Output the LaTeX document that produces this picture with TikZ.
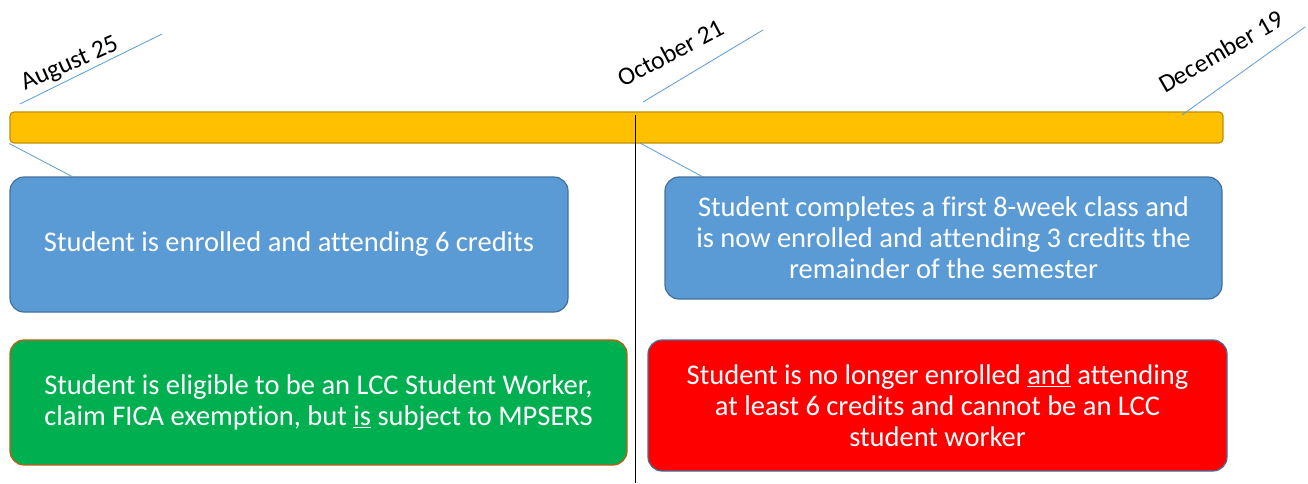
\documentclass[tikz,border=0pt]{standalone}
\usepackage{fontspec}
\setmainfont{Carlito}[Ligatures=NoCommon]
\usetikzlibrary{positioning, calc}

\definecolor{baryellow}{HTML}{FFC000}
\definecolor{bardark}{HTML}{BF9000}
\definecolor{boxblue}{HTML}{5B9BD5}
\definecolor{blueedge}{HTML}{41719C}
\definecolor{boxgreen}{HTML}{00B050}
\definecolor{greenedge}{HTML}{C55A11}
\definecolor{boxred}{HTML}{FF0000}

\begin{document}
\begin{tikzpicture}[
    x=1pt, y=-1pt,
    mybox/.style={draw, line width=1.2pt, rounded corners=14pt, align=center, text=white,
        font=\fontsize{28.5}{31}\selectfont, inner sep=0},
    myblue/.style={fill=boxblue, draw=blueedge},
    mygreen/.style={fill=boxgreen, draw=greenedge},
    myred/.style={fill=boxred, draw=blueedge},
    mybar/.style={draw=bardark, fill=baryellow, line width=1.2pt, rounded corners=4pt, inner sep=0},
    mydate/.style={font=\fontsize{25.5}{30}\selectfont, inner sep=0, anchor=base west},
    mytail/.style={draw=boxblue, line width=0.8pt},
]

\useasboundingbox (0,0) rectangle (1308,483);

% Timeline bar
\node[mybar, minimum width=1213, minimum height=31] (bar) at (616.5,127.5) {};

% Dates
\node[mydate, rotate=24] (aug) at (25,91) {August 25};
\node[mydate, rotate=28] (oct) at (623,88) {October 21};
\node[mydate, rotate=30] (dec) at (1165,94) {December 19};

\coordinate (augA) at (20,104);
\coordinate (augB) at (162,34);
\coordinate (octA) at (643,102);
\coordinate (octB) at (763,30);
\coordinate (decA) at (1182,115);
\coordinate (decB) at (1305,27);

% Boxes
\node[mybox, myblue, minimum width=558, minimum height=135] (six) at (289,244.5)
    {Student is enrolled and attending 6 credits};
\node[mybox, myblue, minimum width=557, minimum height=122] (three) at (943.5,238)
    {Student completes a first 8-week class and\\is now enrolled and attending 3 credits the\\remainder of the semester};
\node[mybox, mygreen, minimum width=617, minimum height=125] (worker) at (318.5,402.5)
    {Student is eligible to be an LCC Student Worker,\\claim FICA exemption, but \underline{is} subject to MPSERS};
\node[mybox, myred, minimum width=579, minimum height=131] (noworker) at (937.5,405.5)
    {Student is no longer enrolled \underline{and} attending\\at least 6 credits and cannot be an LCC\\student worker};

\coordinate (sixtail) at (73,177);
\coordinate (bartail) at (640,143);
\coordinate (threetail) at (703,177);
\coordinate (splittop) at (635,115);
\coordinate (splitbot) at (635,483);

% Lines
\draw[mytail] (augA) -- (augB);
\draw[mytail] (octA) -- (octB);
\draw[mytail] (decA) -- (decB);
\draw[mytail] (bar.south west) -- (sixtail);
\draw[mytail] (bartail) -- (threetail);
\draw[line width=0.9pt] (splittop) -- (splitbot);

\end{tikzpicture}
\end{document}
